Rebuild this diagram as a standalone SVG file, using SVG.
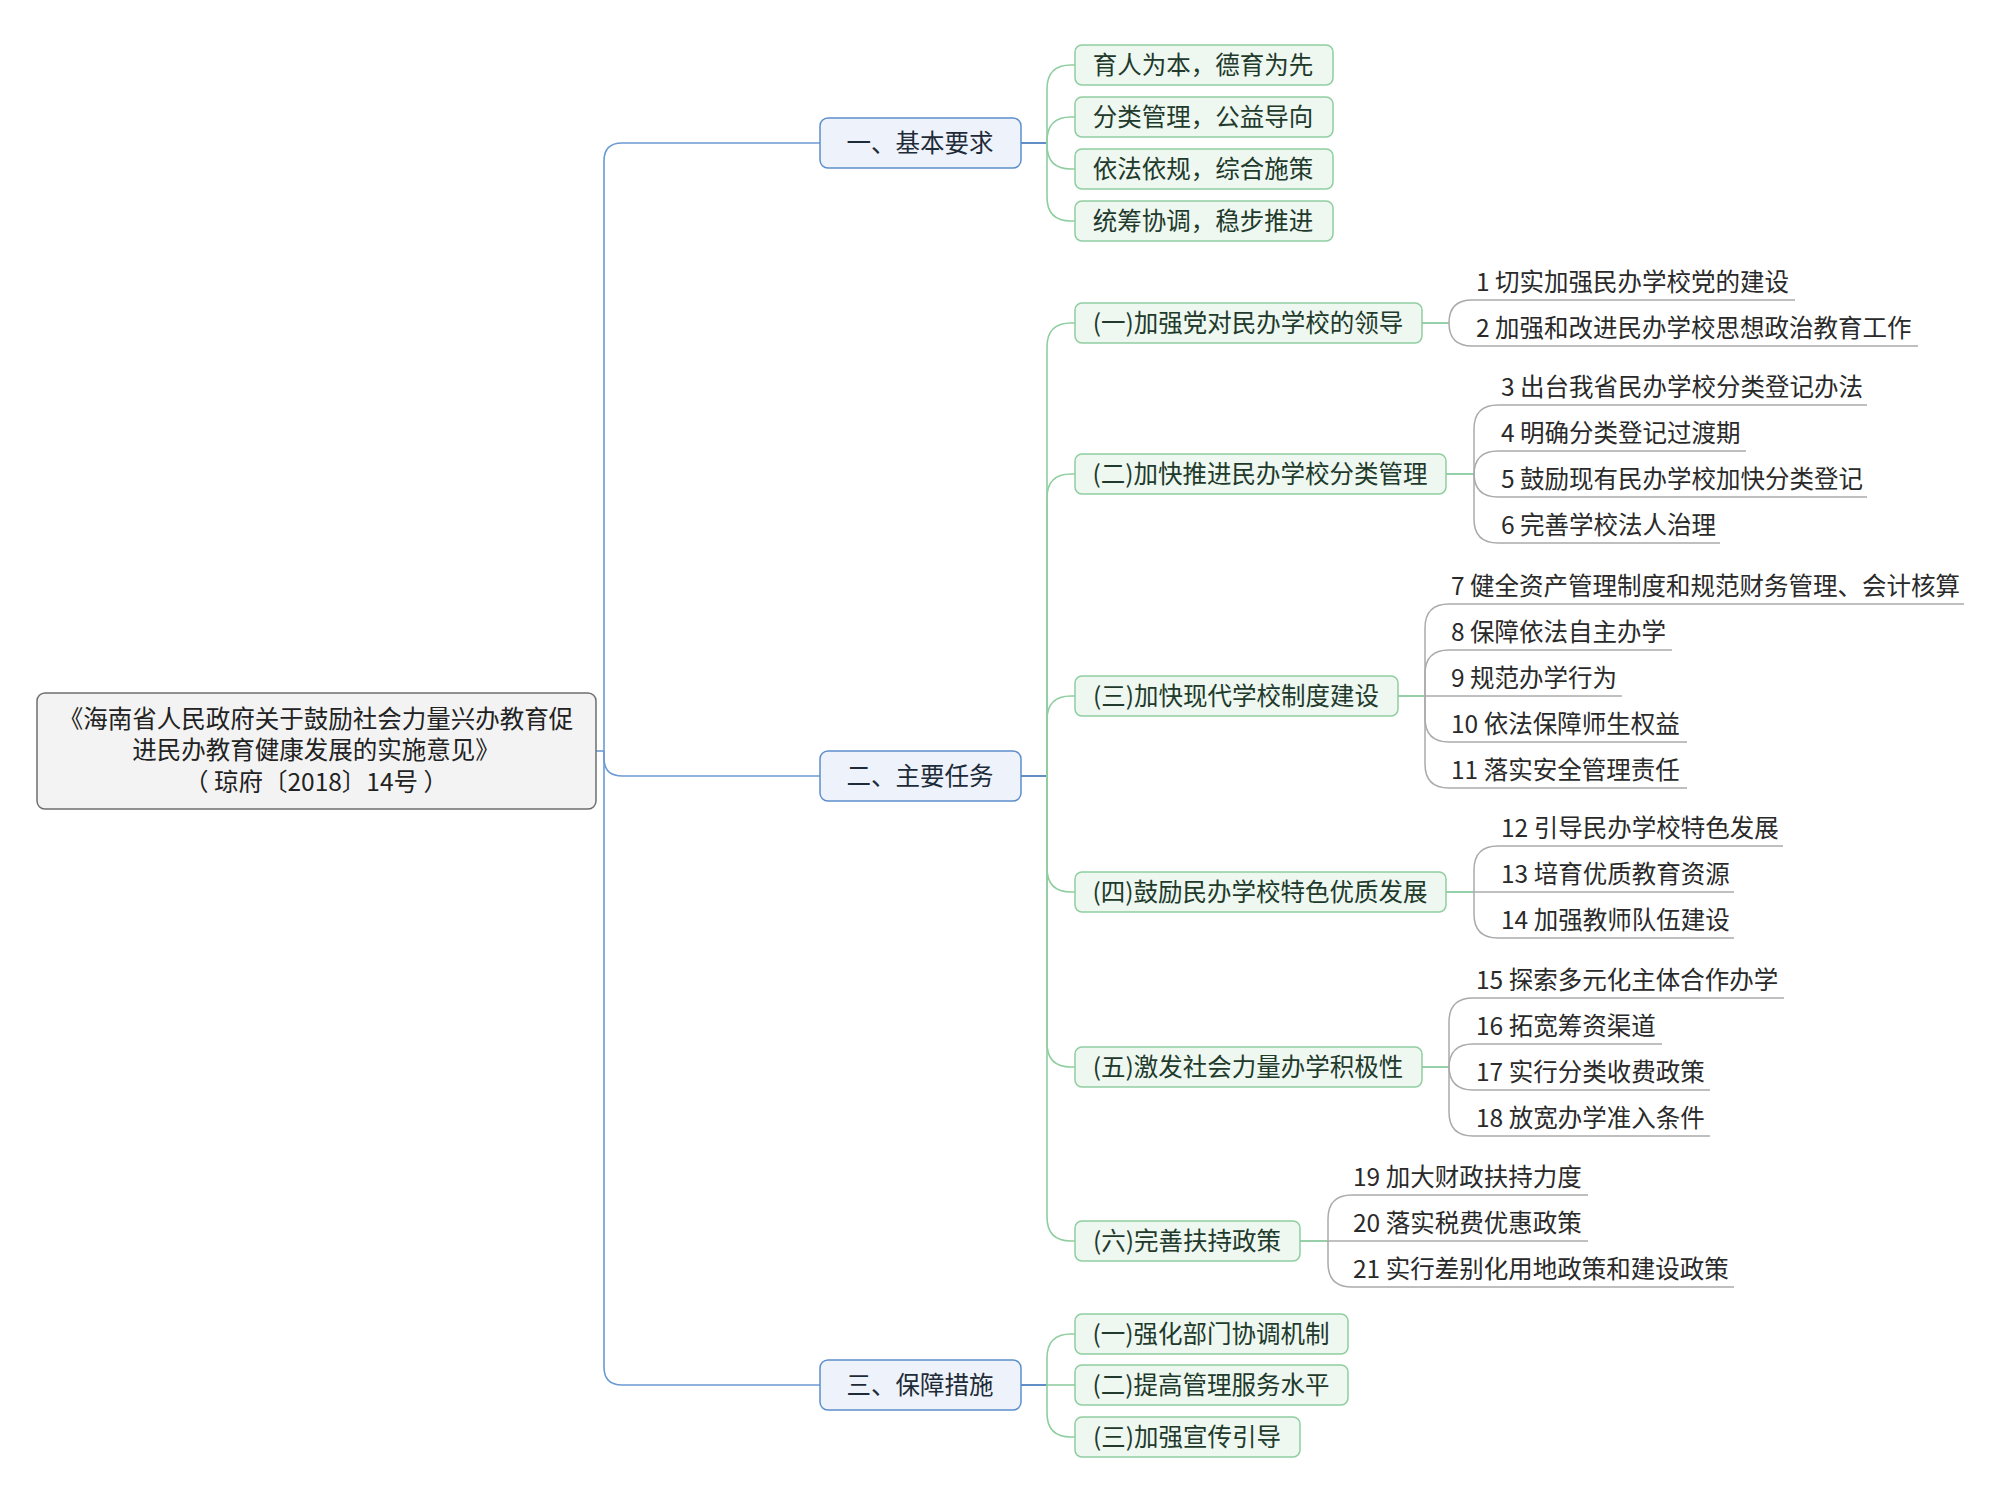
<svg xmlns="http://www.w3.org/2000/svg" width="2000" height="1500" viewBox="0 0 2000 1500">
<style>
text{font-family:"Noto Sans CJK SC","Noto Sans",sans-serif;font-size:24.5px}
.root rect{fill:#f3f3f3;stroke:#6f6f6f;stroke-width:1.5}
.root text{font-size:24.5px;fill:#222;text-anchor:middle}
.l1 rect{fill:#eef3fb;stroke:#5d8fcc;stroke-width:1.5}
.l1 text{fill:#1e2b38;text-anchor:middle}
.l2 rect{fill:#eef7f0;stroke:#8fcea0;stroke-width:1.5}
.l2 text{fill:#213a2b;text-anchor:middle}
.leaf text{fill:#2a2a2a}
.c0{fill:none;stroke:#6b9bd3;stroke-width:1.6}
.c1s{fill:none;stroke:#3a72b8;stroke-width:1.6}
.c1{fill:none;stroke:#8fcea0;stroke-width:1.6}
.c2s{fill:none;stroke:#7cc493;stroke-width:1.6}
.c2{fill:none;stroke:#ababab;stroke-width:1.5}
</style>
<rect width="2000" height="1500" fill="#ffffff"/>
<g id="connectors">
<path class="c0" d="M596 751H604"/>
<path class="c0" d="M604 751V161Q604 143 622 143H820"/>
<path class="c0" d="M604 751V758Q604 776 622 776H820"/>
<path class="c0" d="M604 751V1367Q604 1385 622 1385H820"/>
<path class="c1s" d="M1021 143H1047"/>
<path class="c1" d="M1047 143V89Q1047 65 1071 65H1075"/>
<path class="c1" d="M1047 143V141Q1047 117 1071 117H1075"/>
<path class="c1" d="M1047 143V145Q1047 169 1071 169H1075"/>
<path class="c1" d="M1047 143V197Q1047 221 1071 221H1075"/>
<path class="c1s" d="M1021 776H1047"/>
<path class="c1" d="M1047 776V347Q1047 323 1071 323H1075"/>
<path class="c1" d="M1047 776V498Q1047 474 1071 474H1075"/>
<path class="c1" d="M1047 776V720Q1047 696 1071 696H1075"/>
<path class="c1" d="M1047 776V868Q1047 892 1071 892H1075"/>
<path class="c1" d="M1047 776V1043Q1047 1067 1071 1067H1075"/>
<path class="c1" d="M1047 776V1217Q1047 1241 1071 1241H1075"/>
<path class="c1s" d="M1021 1385H1047"/>
<path class="c1" d="M1047 1385V1358Q1047 1334 1071 1334H1075"/>
<path class="c1" d="M1047 1385H1075"/>
<path class="c1" d="M1047 1385V1413Q1047 1437 1071 1437H1075"/>
<path class="c2s" d="M1422 323H1449"/>
<path class="c2" d="M1449 323Q1449 300 1472 300H1795"/>
<path class="c2" d="M1449 323Q1449 346 1472 346H1918"/>
<path class="c2s" d="M1446 474H1474"/>
<path class="c2" d="M1474 474V429Q1474 405 1498 405H1867"/>
<path class="c2" d="M1474 474V475Q1474 451 1498 451H1746"/>
<path class="c2" d="M1474 474V473Q1474 497 1498 497H1867"/>
<path class="c2" d="M1474 474V519Q1474 543 1498 543H1720"/>
<path class="c2s" d="M1398 696H1425"/>
<path class="c2" d="M1425 696V628Q1425 604 1449 604H1964"/>
<path class="c2" d="M1425 696V674Q1425 650 1449 650H1672"/>
<path class="c2" d="M1425 696H1622"/>
<path class="c2" d="M1425 696V718Q1425 742 1449 742H1687"/>
<path class="c2" d="M1425 696V764Q1425 788 1449 788H1687"/>
<path class="c2s" d="M1446 892H1474"/>
<path class="c2" d="M1474 892V870Q1474 846 1498 846H1783"/>
<path class="c2" d="M1474 892H1734"/>
<path class="c2" d="M1474 892V914Q1474 938 1498 938H1734"/>
<path class="c2s" d="M1422 1067H1449"/>
<path class="c2" d="M1449 1067V1022Q1449 998 1473 998H1784"/>
<path class="c2" d="M1449 1067V1068Q1449 1044 1473 1044H1662"/>
<path class="c2" d="M1449 1067V1066Q1449 1090 1473 1090H1710"/>
<path class="c2" d="M1449 1067V1112Q1449 1136 1473 1136H1710"/>
<path class="c2s" d="M1300 1241H1328"/>
<path class="c2" d="M1328 1241V1219Q1328 1195 1352 1195H1588"/>
<path class="c2" d="M1328 1241H1588"/>
<path class="c2" d="M1328 1241V1263Q1328 1287 1352 1287H1734"/>
</g>
<g id="root" class="root">
<rect x="37" y="693" width="559" height="116" rx="8"/>
<text x="316" y="728">《海南省人民政府关于鼓励社会力量兴办教育促</text>
<text x="316" y="759">进民办教育健康发展的实施意见》</text>
<text x="316" y="791">（ 琼府〔2018〕14号 ）</text>
</g>
<g id="n1" class="l1"><rect x="820" y="118" width="201" height="50" rx="8"/><text x="920" y="152">一、基本要求</text></g>
<g id="n2" class="l1"><rect x="820" y="751" width="201" height="50" rx="8"/><text x="920" y="785">二、主要任务</text></g>
<g id="n3" class="l1"><rect x="820" y="1360" width="201" height="50" rx="8"/><text x="920" y="1394">三、保障措施</text></g>
<g id="n1-1" class="l2"><rect x="1075" y="45" width="258" height="40" rx="7"/><text x="1203" y="74">育人为本，德育为先</text></g>
<g id="n1-2" class="l2"><rect x="1075" y="97" width="258" height="40" rx="7"/><text x="1203" y="126">分类管理，公益导向</text></g>
<g id="n1-3" class="l2"><rect x="1075" y="149" width="258" height="40" rx="7"/><text x="1203" y="178">依法依规，综合施策</text></g>
<g id="n1-4" class="l2"><rect x="1075" y="201" width="258" height="40" rx="7"/><text x="1203" y="230">统筹协调，稳步推进</text></g>
<g id="n2-1" class="l2"><rect x="1075" y="303" width="347" height="40" rx="7"/><text x="1248" y="332">(一)加强党对民办学校的领导</text></g>
<g id="n2-2" class="l2"><rect x="1075" y="454" width="371" height="40" rx="7"/><text x="1260" y="483">(二)加快推进民办学校分类管理</text></g>
<g id="n2-3" class="l2"><rect x="1075" y="676" width="323" height="40" rx="7"/><text x="1236" y="705">(三)加快现代学校制度建设</text></g>
<g id="n2-4" class="l2"><rect x="1075" y="872" width="371" height="40" rx="7"/><text x="1260" y="901">(四)鼓励民办学校特色优质发展</text></g>
<g id="n2-5" class="l2"><rect x="1075" y="1047" width="347" height="40" rx="7"/><text x="1248" y="1076">(五)激发社会力量办学积极性</text></g>
<g id="n2-6" class="l2"><rect x="1075" y="1221" width="225" height="40" rx="7"/><text x="1187" y="1250">(六)完善扶持政策</text></g>
<g id="n3-1" class="l2"><rect x="1075" y="1314" width="273" height="40" rx="7"/><text x="1211" y="1343">(一)强化部门协调机制</text></g>
<g id="n3-2" class="l2"><rect x="1075" y="1365" width="273" height="40" rx="7"/><text x="1211" y="1394">(二)提高管理服务水平</text></g>
<g id="n3-3" class="l2"><rect x="1075" y="1417" width="225" height="40" rx="7"/><text x="1187" y="1446">(三)加强宣传引导</text></g>
<g id="leaves" class="leaf">
<g id="t1"><text x="1476" y="291">1 切实加强民办学校党的建设</text></g>
<g id="t2"><text x="1476" y="337">2 加强和改进民办学校思想政治教育工作</text></g>
<g id="t3"><text x="1501" y="396">3 出台我省民办学校分类登记办法</text></g>
<g id="t4"><text x="1501" y="442">4 明确分类登记过渡期</text></g>
<g id="t5"><text x="1501" y="488">5 鼓励现有民办学校加快分类登记</text></g>
<g id="t6"><text x="1501" y="534">6 完善学校法人治理</text></g>
<g id="t7"><text x="1451" y="595">7 健全资产管理制度和规范财务管理、会计核算</text></g>
<g id="t8"><text x="1451" y="641">8 保障依法自主办学</text></g>
<g id="t9"><text x="1451" y="687">9 规范办学行为</text></g>
<g id="t10"><text x="1451" y="733">10 依法保障师生权益</text></g>
<g id="t11"><text x="1451" y="779">11 落实安全管理责任</text></g>
<g id="t12"><text x="1501" y="837">12 引导民办学校特色发展</text></g>
<g id="t13"><text x="1501" y="883">13 培育优质教育资源</text></g>
<g id="t14"><text x="1501" y="929">14 加强教师队伍建设</text></g>
<g id="t15"><text x="1476" y="989">15 探索多元化主体合作办学</text></g>
<g id="t16"><text x="1476" y="1035">16 拓宽筹资渠道</text></g>
<g id="t17"><text x="1476" y="1081">17 实行分类收费政策</text></g>
<g id="t18"><text x="1476" y="1127">18 放宽办学准入条件</text></g>
<g id="t19"><text x="1353" y="1186">19 加大财政扶持力度</text></g>
<g id="t20"><text x="1353" y="1232">20 落实税费优惠政策</text></g>
<g id="t21"><text x="1353" y="1278">21 实行差别化用地政策和建设政策</text></g>
</g>
</svg>
